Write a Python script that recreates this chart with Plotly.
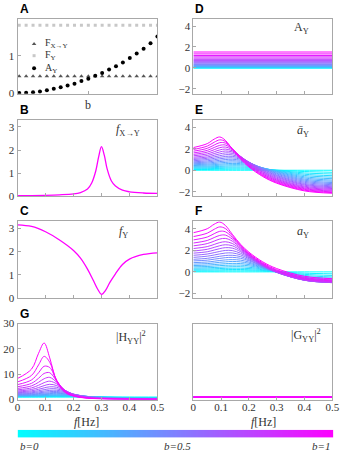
import plotly.graph_objects as go

# ---- data ----
b_vals = [0.0, 0.05, 0.1, 0.15, 0.2, 0.25, 0.3, 0.35, 0.4, 0.45, 0.5,
          0.55, 0.6, 0.65, 0.7, 0.75, 0.8, 0.85, 0.9, 0.95, 1.0]

# panel A: totals vs b
F_XY = [0.45, 0.45, 0.45, 0.45, 0.45, 0.45, 0.45, 0.45, 0.45, 0.45, 0.45,
        0.45, 0.45, 0.45, 0.45, 0.45, 0.45, 0.45, 0.45, 0.45, 0.45]
F_Y = [1.82, 1.82, 1.82, 1.82, 1.82, 1.82, 1.82, 1.82, 1.82, 1.82, 1.82,
       1.82, 1.82, 1.82, 1.82, 1.82, 1.82, 1.82, 1.82, 1.82, 1.82]
A_Y = [0.0, 0.005, 0.02, 0.04, 0.07, 0.11, 0.15, 0.2, 0.25, 0.32, 0.38,
       0.46, 0.54, 0.63, 0.72, 0.82, 0.94, 1.06, 1.19, 1.34, 1.52]

# panel B: f_X->Y
freq_b = [0, 0.05, 0.1, 0.15, 0.2, 0.225, 0.25, 0.265, 0.28, 0.29, 0.3,
          0.31, 0.32, 0.335, 0.35, 0.375, 0.4, 0.45, 0.5]
f_XY = [0.04, 0.04, 0.05, 0.07, 0.11, 0.17, 0.32, 0.58, 1.12, 1.72, 2.15,
        1.78, 1.2, 0.68, 0.45, 0.27, 0.2, 0.15, 0.13]

# panel C: f_Y
freq_c = [0, 0.05, 0.1, 0.15, 0.2, 0.225, 0.25, 0.27, 0.285, 0.3, 0.315,
          0.33, 0.35, 0.375, 0.4, 0.45, 0.5]
f_Y = [3.15, 3.08, 2.85, 2.5, 2.05, 1.72, 1.25, 0.78, 0.42, 0.17, 0.35,
       0.68, 1.05, 1.45, 1.68, 1.88, 1.95]

# panels E, F, G: one row per b value
freq = [0, 0.05, 0.075, 0.095, 0.115, 0.14, 0.17, 0.2, 0.25, 0.3, 0.4, 0.5]

abar_Y = [
    [0, 0, 0, 0, 0, 0, 0, 0, 0, 0, 0, 0],
    [0.07, 0.07, 0.08, 0.09, 0.09, 0.10, 0.10, 0.09, 0.06, 0.01, -0.12, -0.19],
    [0.14, 0.15, 0.16, 0.17, 0.19, 0.20, 0.20, 0.18, 0.11, 0.00, -0.25, -0.35],
    [0.21, 0.23, 0.25, 0.27, 0.29, 0.30, 0.30, 0.27, 0.16, -0.02, -0.37, -0.51],
    [0.28, 0.31, 0.34, 0.36, 0.39, 0.41, 0.41, 0.36, 0.19, -0.06, -0.49, -0.65],
    [0.36, 0.39, 0.43, 0.47, 0.50, 0.52, 0.52, 0.45, 0.21, -0.10, -0.61, -0.79],
    [0.44, 0.48, 0.53, 0.57, 0.61, 0.64, 0.62, 0.53, 0.22, -0.15, -0.72, -0.92],
    [0.52, 0.57, 0.63, 0.69, 0.73, 0.77, 0.73, 0.60, 0.21, -0.21, -0.83, -1.03],
    [0.61, 0.67, 0.74, 0.81, 0.86, 0.89, 0.84, 0.66, 0.20, -0.28, -0.93, -1.15],
    [0.70, 0.77, 0.86, 0.93, 1.00, 1.03, 0.94, 0.71, 0.17, -0.35, -1.03, -1.25],
    [0.79, 0.88, 0.98, 1.07, 1.14, 1.16, 1.04, 0.74, 0.13, -0.43, -1.13, -1.35],
    [0.89, 1.00, 1.11, 1.21, 1.29, 1.30, 1.12, 0.76, 0.08, -0.50, -1.23, -1.45],
    [1.00, 1.12, 1.25, 1.36, 1.45, 1.44, 1.19, 0.77, 0.02, -0.58, -1.32, -1.54],
    [1.11, 1.24, 1.40, 1.53, 1.62, 1.58, 1.25, 0.75, -0.05, -0.66, -1.40, -1.63],
    [1.22, 1.38, 1.56, 1.71, 1.80, 1.71, 1.28, 0.72, -0.12, -0.75, -1.49, -1.71],
    [1.35, 1.53, 1.73, 1.90, 1.98, 1.82, 1.30, 0.68, -0.19, -0.83, -1.57, -1.79],
    [1.48, 1.69, 1.92, 2.11, 2.17, 1.92, 1.28, 0.62, -0.27, -0.91, -1.65, -1.87],
    [1.62, 1.86, 2.13, 2.33, 2.36, 1.99, 1.25, 0.55, -0.35, -0.98, -1.72, -1.94],
    [1.78, 2.05, 2.36, 2.58, 2.54, 2.02, 1.20, 0.48, -0.43, -1.06, -1.79, -2.02],
    [1.94, 2.26, 2.62, 2.84, 2.69, 2.02, 1.13, 0.39, -0.51, -1.14, -1.86, -2.09],
    [2.12, 2.49, 2.91, 3.11, 2.80, 1.98, 1.04, 0.31, -0.59, -1.21, -1.93, -2.15],
]

a_Y = [
    [0, 0, 0, 0, 0, 0, 0, 0, 0, 0, 0, 0],
    [0.07, 0.08, 0.08, 0.09, 0.10, 0.10, 0.10, 0.10, 0.07, 0.01, -0.12, -0.18],
    [0.16, 0.17, 0.18, 0.19, 0.21, 0.22, 0.22, 0.20, 0.13, 0.02, -0.23, -0.33],
    [0.25, 0.27, 0.29, 0.31, 0.33, 0.34, 0.34, 0.31, 0.20, 0.02, -0.33, -0.47],
    [0.35, 0.38, 0.41, 0.43, 0.46, 0.48, 0.48, 0.43, 0.26, 0.01, -0.42, -0.58],
    [0.47, 0.50, 0.54, 0.58, 0.61, 0.63, 0.63, 0.56, 0.32, 0.01, -0.50, -0.68],
    [0.59, 0.63, 0.68, 0.72, 0.76, 0.79, 0.77, 0.68, 0.37, 0.00, -0.57, -0.77],
    [0.72, 0.77, 0.83, 0.89, 0.93, 0.97, 0.93, 0.80, 0.41, -0.01, -0.63, -0.83],
    [0.86, 0.92, 0.99, 1.06, 1.11, 1.14, 1.09, 0.91, 0.45, -0.03, -0.68, -0.90],
    [1.02, 1.09, 1.18, 1.25, 1.32, 1.35, 1.26, 1.03, 0.49, -0.03, -0.71, -0.93],
    [1.17, 1.26, 1.36, 1.45, 1.52, 1.54, 1.42, 1.12, 0.51, -0.05, -0.75, -0.97],
    [1.35, 1.46, 1.57, 1.67, 1.75, 1.76, 1.58, 1.22, 0.54, -0.04, -0.77, -0.99],
    [1.54, 1.66, 1.79, 1.90, 1.99, 1.98, 1.73, 1.31, 0.56, -0.04, -0.78, -1.00],
    [1.74, 1.87, 2.03, 2.16, 2.25, 2.21, 1.88, 1.38, 0.58, -0.03, -0.77, -1.00],
    [1.94, 2.10, 2.28, 2.43, 2.52, 2.43, 2.00, 1.44, 0.60, -0.03, -0.77, -0.99],
    [2.17, 2.35, 2.55, 2.72, 2.80, 2.64, 2.12, 1.50, 0.63, -0.01, -0.75, -0.97],
    [2.42, 2.63, 2.86, 3.05, 3.11, 2.86, 2.22, 1.56, 0.67, 0.03, -0.71, -0.93],
    [2.68, 2.92, 3.19, 3.39, 3.42, 3.05, 2.31, 1.61, 0.71, 0.08, -0.66, -0.88],
    [2.97, 3.24, 3.55, 3.77, 3.73, 3.21, 2.39, 1.67, 0.76, 0.13, -0.60, -0.83],
    [3.28, 3.60, 3.96, 4.18, 4.03, 3.36, 2.47, 1.73, 0.83, 0.20, -0.52, -0.75],
    [3.64, 4.01, 4.43, 4.63, 4.32, 3.50, 2.56, 1.83, 0.93, 0.31, -0.41, -0.63],
]

H_YY2 = [
    [1, 1, 1, 1, 1, 1, 1, 1, 1, 1, 1, 1],
    [1.07, 1.08, 1.08, 1.09, 1.10, 1.10, 1.10, 1.10, 1.06, 1.01, 0.88, 0.83],
    [1.15, 1.16, 1.18, 1.19, 1.20, 1.22, 1.22, 1.20, 1.12, 1.00, 0.78, 0.70],
    [1.23, 1.25, 1.28, 1.31, 1.33, 1.35, 1.35, 1.32, 1.17, 0.98, 0.69, 0.60],
    [1.32, 1.36, 1.40, 1.44, 1.48, 1.51, 1.50, 1.44, 1.21, 0.95, 0.61, 0.52],
    [1.43, 1.48, 1.54, 1.59, 1.65, 1.69, 1.67, 1.56, 1.23, 0.91, 0.54, 0.45],
    [1.55, 1.62, 1.70, 1.77, 1.85, 1.90, 1.87, 1.69, 1.24, 0.86, 0.49, 0.40],
    [1.68, 1.78, 1.88, 1.99, 2.08, 2.15, 2.08, 1.82, 1.24, 0.81, 0.44, 0.36],
    [1.83, 1.96, 2.10, 2.24, 2.37, 2.45, 2.31, 1.93, 1.22, 0.76, 0.39, 0.32],
    [2.01, 2.17, 2.36, 2.54, 2.71, 2.79, 2.56, 2.03, 1.18, 0.70, 0.36, 0.29],
    [2.21, 2.41, 2.66, 2.91, 3.13, 3.20, 2.82, 2.10, 1.14, 0.65, 0.32, 0.26],
    [2.44, 2.70, 3.03, 3.36, 3.63, 3.68, 3.07, 2.14, 1.08, 0.60, 0.29, 0.23],
    [2.71, 3.05, 3.49, 3.91, 4.26, 4.23, 3.30, 2.15, 1.02, 0.56, 0.27, 0.21],
    [3.03, 3.47, 4.05, 4.62, 5.05, 4.85, 3.48, 2.12, 0.95, 0.51, 0.25, 0.20],
    [3.40, 3.98, 4.75, 5.51, 6.03, 5.52, 3.61, 2.06, 0.89, 0.47, 0.23, 0.18],
    [3.85, 4.61, 5.65, 6.68, 7.26, 6.20, 3.65, 1.97, 0.82, 0.44, 0.21, 0.17],
    [4.40, 5.41, 6.83, 8.23, 8.77, 6.83, 3.61, 1.86, 0.76, 0.40, 0.19, 0.15],
    [5.07, 6.42, 8.41, 10.31, 10.60, 7.31, 3.49, 1.74, 0.71, 0.37, 0.18, 0.14],
    [5.91, 7.76, 10.58, 13.15, 12.66, 7.56, 3.31, 1.61, 0.65, 0.35, 0.17, 0.13],
    [6.97, 9.55, 13.69, 17.05, 14.75, 7.52, 3.08, 1.48, 0.60, 0.32, 0.15, 0.12],
    [8.35, 12.05, 18.28, 22.32, 16.45, 7.21, 2.83, 1.36, 0.55, 0.30, 0.14, 0.12],
]

# panel H: |G_YY|^2, flat for every b
G_YY2 = [1.0, 1.0, 1.0, 1.0, 1.0, 1.0, 1.0, 1.0, 1.0, 1.0, 1.0,
         1.0, 1.0, 1.0, 1.0, 1.0, 1.0, 1.0, 1.0, 1.0, 1.0]

freq_ticks = [0, 0.1, 0.2, 0.3, 0.4, 0.5]
freq_ticktext = ["0", "0.1", "0.2", "0.3", "0.4", "0.5"]
legend_names = ["F<sub>X→Y</sub>", "F<sub>Y</sub>", "A<sub>Y</sub>"]

# ---- layout helpers ----
W, H = 348, 465
SERIF = "Liberation Serif"
SANS = "Liberation Sans"
FRAME = "#a8a8a8"
TXT = "#333333"
MAG = "rgb(255,0,255)"


def xdom(a, b):
    return [a / W, b / W]


def ydom(top, bottom):
    return [1 - bottom / H, 1 - top / H]


def bcolor(b):
    return f"rgb({round(255 * b)},{round(255 * (1 - b))},255)"


LEFT, RIGHT = xdom(15, 159), xdom(196, 339)
ROW_TOPS = [13, 117, 221, 326]
ROWS = [ydom(13, 90), ydom(117, 195.5), ydom(221, 300), ydom(326, 404)]

STY_FXY = dict(symbol="triangle-up", size=4, color="#555555")
STY_FY = dict(symbol="square", size=3, color="#c8c8c8")
STY_AY = dict(symbol="circle", size=4, color="black")

fig = go.Figure()

# A
fig.add_trace(go.Scatter(x=b_vals, y=F_XY, mode="markers", marker=STY_FXY, xaxis="x", yaxis="y"))
fig.add_trace(go.Scatter(x=b_vals, y=F_Y, mode="markers", marker=STY_FY, xaxis="x", yaxis="y"))
fig.add_trace(go.Scatter(x=b_vals, y=A_Y, mode="markers", marker=STY_AY, xaxis="x", yaxis="y"))

# B, C
fig.add_trace(go.Scatter(x=freq_b, y=f_XY, mode="lines", line=dict(color=MAG, width=1.3, shape="spline"),
                         xaxis="x2", yaxis="y2"))
fig.add_trace(go.Scatter(x=freq_c, y=f_Y, mode="lines", line=dict(color=MAG, width=1.3, shape="spline"),
                         xaxis="x3", yaxis="y3"))

# D, E, F, G, H families
for i, b in enumerate(b_vals):
    c = bcolor(b)
    fig.add_trace(go.Scatter(x=[0, 0.5], y=[A_Y[i], A_Y[i]], mode="lines",
                             line=dict(color=c, width=1), xaxis="x5", yaxis="y5"))
    fig.add_trace(go.Scatter(x=freq, y=abar_Y[i], mode="lines",
                             line=dict(color=c, width=1, shape="spline"), xaxis="x6", yaxis="y6"))
    fig.add_trace(go.Scatter(x=freq, y=a_Y[i], mode="lines",
                             line=dict(color=c, width=1, shape="spline"), xaxis="x7", yaxis="y7"))
    fig.add_trace(go.Scatter(x=freq, y=H_YY2[i], mode="lines",
                             line=dict(color=c, width=1, shape="spline"), xaxis="x4", yaxis="y4"))
    fig.add_trace(go.Scatter(x=[0, 0.5], y=[G_YY2[i], G_YY2[i]], mode="lines",
                             line=dict(color=c, width=1.3), xaxis="x8", yaxis="y8"))

# colour bar
fig.add_trace(go.Heatmap(z=[b_vals], x=b_vals, y=[0], zsmooth="best", showscale=False,
                         colorscale=[[0, "rgb(0,255,255)"], [1, "rgb(255,0,255)"]],
                         zmin=0, zmax=1, xaxis="x9", yaxis="y9", hoverinfo="skip"))

# legend glyphs of panel A, placed on a pixel overlay
for name, sty, ypx in zip(legend_names, [STY_FXY, STY_FY, STY_AY], [39, 51, 64]):
    fig.add_trace(go.Scatter(x=[32], y=[ypx], mode="markers", marker=sty,
                             xaxis="x10", yaxis="y10", hoverinfo="skip"))

tickfont = dict(family=SERIF, size=11, color=TXT)


def xax(dom, anchor, rng=(0, 0.5), tickvals=freq_ticks, labels=False):
    d = dict(domain=dom, anchor=anchor, range=list(rng), showline=True, mirror=True,
             linecolor=FRAME, linewidth=1, ticks="inside", ticklen=3, tickcolor=FRAME,
             showgrid=False, zeroline=False, tickvals=tickvals, showticklabels=labels,
             tickfont=tickfont, fixedrange=True)
    if labels:
        d.update(ticktext=freq_ticktext, ticklabelstandoff=-3, ticklabeloverflow="allow")
    return d


def yax(dom, anchor, rng, tickvals, labels=True):
    return dict(domain=dom, anchor=anchor, range=list(rng), showline=True, mirror=True,
                linecolor=FRAME, linewidth=1, ticks="inside" if labels else "", ticklen=3,
                tickcolor=FRAME, showgrid=False, zeroline=False, tickvals=tickvals,
                showticklabels=labels, tickfont=tickfont, fixedrange=True)


lim_mid = (-2.45, 4.7)

fig.update_layout(
    width=W, height=H, margin=dict(l=0, r=0, t=0, b=0),
    paper_bgcolor="white", plot_bgcolor="rgba(0,0,0,0)", showlegend=False,
    xaxis=xax(LEFT, "y", rng=(-0.012, 1.0), tickvals=[0.5]),
    yaxis=yax(ROWS[0], "x", (-0.02, 2.0), [0, 1]),
    xaxis2=xax(LEFT, "y2"), yaxis2=yax(ROWS[1], "x2", (0, 3.3), [0, 1, 2, 3]),
    xaxis3=xax(LEFT, "y3"), yaxis3=yax(ROWS[2], "x3", (0, 3.3), [0, 1, 2, 3]),
    xaxis4=xax(LEFT, "y4", labels=True), yaxis4=yax(ROWS[3], "x4", (0, 30), [0, 10, 20, 30]),
    xaxis5=xax(RIGHT, "y5"), yaxis5=yax(ROWS[0], "x5", lim_mid, [-2, 0, 2, 4]),
    xaxis6=xax(RIGHT, "y6"), yaxis6=yax(ROWS[1], "x6", lim_mid, [-2, 0, 2, 4]),
    xaxis7=xax(RIGHT, "y7"), yaxis7=yax(ROWS[2], "x7", lim_mid, [-2, 0, 2, 4]),
    xaxis8=xax(RIGHT, "y8", labels=True), yaxis8=yax(ROWS[3], "x8", (0, 30), [0, 10, 20, 30], labels=False),
    xaxis9=dict(domain=xdom(15, 340), anchor="y9", range=[0, 1], visible=False, fixedrange=True),
    yaxis9=dict(domain=ydom(435, 443), anchor="x9", range=[-0.5, 0.5], visible=False, fixedrange=True),
    xaxis10=dict(domain=[0, 1], anchor="y10", range=[0, W], visible=False, fixedrange=True),
    yaxis10=dict(domain=[0, 1], anchor="x10", range=[H, 0], visible=False, fixedrange=True),
)

annotations = []


def paper_text(t, xpx, ypx, size=12, family=SERIF, xanchor="left", yanchor="middle", color=TXT):
    annotations.append(dict(text=t, x=xpx / W, y=1 - ypx / H, xref="paper", yref="paper",
                            xanchor=xanchor, yanchor=yanchor, showarrow=False,
                            font=dict(family=family, size=size, color=color)))


# panel letters
for letter, xpx, row in [("A", 15, 0), ("B", 15, 1), ("C", 15, 2), ("G", 15, 3),
                         ("D", 196, 0), ("E", 196, 1), ("F", 196, 2)]:
    paper_text(f"<b>{letter}</b>", xpx, ROW_TOPS[row] - 1, family=SANS, yanchor="bottom", color="black")

# legend texts of panel A
for name, ypx in zip(legend_names, [39, 51, 64]):
    paper_text(name, 41, ypx, size=10)

# axis labels
paper_text("b", 87, 102, size=12, xanchor="center")
paper_text("<i>f</i>[Hz]", 86, 427, size=12, xanchor="center")
paper_text("<i>f</i>[Hz]", 268, 427, size=12, xanchor="center")

# in-panel labels
labels = [
    ("x2", "y2", 0.69, 0.87, "<i>f</i><sub>X→Y</sub>"),
    ("x3", "y3", 0.71, 0.86, "<i>f</i><sub>Y</sub>"),
    ("x5", "y5", 0.71, 0.87, "A<sub>Y</sub>"),
    ("x6", "y6", 0.73, 0.85, "<i>ā</i><sub>Y</sub>"),
    ("x7", "y7", 0.73, 0.86, "<i>a</i><sub>Y</sub>"),
    ("x4", "y4", 0.69, 0.82, "|H<sub>YY</sub>|<sup>2</sup>"),
    ("x8", "y8", 0.69, 0.84, "|G<sub>YY</sub>|<sup>2</sup>"),
]
for xr, yr, x, y, t in labels:
    annotations.append(dict(text=t, x=x, y=y, xref=f"{xr} domain", yref=f"{yr} domain",
                            xanchor="left", yanchor="middle", showarrow=False,
                            font=dict(family=SERIF, size=12, color=TXT)))

# colour bar labels
paper_text("<i>b=0</i>", 15, 452, size=11)
paper_text("<i>b=0.5</i>", 180, 452, size=11, xanchor="center")
paper_text("<i>b=1</i>", 339, 452, size=11, xanchor="right")

fig.update_layout(annotations=annotations)
# the browser's default body margin would shift the figure by 8px
fig.write_html("out.html", config={"displayModeBar": False},
               post_script="document.body.style.margin='0';document.body.style.overflow='hidden';")
